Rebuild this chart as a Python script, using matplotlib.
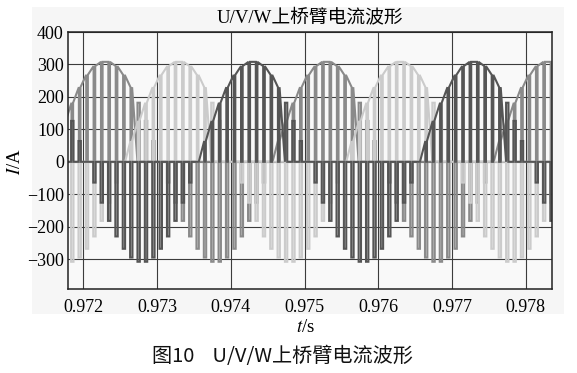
import numpy as np
import matplotlib
matplotlib.use('Agg')
import matplotlib.pyplot as plt
from matplotlib.patches import Rectangle

plt.rcParams['mathtext.fontset'] = 'stix'

# upper arm current of each phase at every switching instant, A (one value per 0.1 ms)
t_start = 0.97175
t_step = 0.0001

i_dark = [182, 126, 64, 0, -64, -126, -182, -230, -268, -295, -308, -308, -295, -268, -230,
          -182, -126, -64, 0, 64, 126, 182, 230, 268, 295, 308,
          308, 295, 268, 230, 182, 126, 64, 0, -64, -126, -182, -230, -268, -295, -308,
          -308, -295, -268, -230, -182, -126, -64, 0, 64, 126, 182, 230, 268, 295, 308,
          308, 295, 268, 230, 182, 126, 64, 0, -64, -126, -182]

i_mid = [126, 182, 230, 268, 295, 308,
         308, 295, 268, 230, 182, 126, 64, 0, -64, -126, -182, -230, -268, -295, -308,
         -308, -295, -268, -230, -182, -126, -64, 0, 64, 126, 182, 230, 268, 295, 308,
         308, 295, 268, 230, 182, 126, 64, 0, -64, -126, -182, -230, -268, -295, -308,
         -308, -295, -268, -230, -182, -126, -64, 0, 64, 126, 182, 230, 268, 295, 308,
         308]

i_light = [-308, -308, -295, -268, -230, -182, -126, -64, 0, 64, 126, 182, 230, 268, 295, 308,
           308, 295, 268, 230, 182, 126, 64, 0, -64, -126, -182, -230, -268, -295, -308,
           -308, -295, -268, -230, -182, -126, -64, 0, 64, 126, 182, 230, 268, 295, 308,
           308, 295, 268, 230, 182, 126, 64, 0, -64, -126, -182, -230, -268, -295, -308,
           -308, -295, -268, -230, -182, -126]

x_ticks = [0.972, 0.973, 0.974, 0.975, 0.976, 0.977, 0.978]
y_ticks = [-300, -200, -100, 0, 100, 200, 300, 400]

serif = ['Liberation Serif', 'Noto Sans CJK SC']


def pwm_trace(values, notch=0.22, pulse=0.32):
    # high duty (rising / near positive peak): conducts with a short notch to zero
    # low duty (falling tail and negative half): short pulse from zero
    ts, ys = [], []
    n = len(values)
    for k, v in enumerate(values):
        tc = t_start + k * t_step
        nxt = values[k + 1] if k + 1 < n else v - (values[k - 1] - v)
        if v > 0 and not (nxt < v and v <= 182):
            h = notch * t_step / 2
            ts += [tc - h, tc - h, tc + h, tc + h]
            ys += [v, 0, 0, v]
        else:
            h = pulse * t_step / 2
            ts += [tc - h, tc - h, tc + h, tc + h]
            ys += [0, v, v, 0]
    return np.array(ts), np.array(ys)


fig = plt.figure(figsize=(5.77, 3.73), dpi=100)
fig.patches.append(Rectangle((0.0555, 0.158), 0.922, 0.822, transform=fig.transFigure,
                             facecolor='#f6f6f6', edgecolor='none', zorder=-10))

ax = fig.add_axes([0.1179, 0.2252, 0.8388, 0.689])
ax.set_facecolor('#f9f9f9')

for vals, col in [(i_mid, '#8a8a8a'), (i_light, '#cbcbcb'), (i_dark, '#555555')]:
    tt, yy = pwm_trace(vals)
    ax.plot(tt, yy, color=col, lw=1.5, solid_joinstyle='miter')

ax.set_xlim(0.971792, 0.978357)
ax.set_ylim(-392, 400)
ax.set_xticks(x_ticks)
ax.set_xticklabels(['%.3f' % v for v in x_ticks])
ax.set_yticks(y_ticks)
ax.grid(True, color='#3c3c3c', lw=0.8)
ax.set_axisbelow(True)
ax.tick_params(length=0, pad=3)
ax.tick_params(axis='x', pad=7)
for lab in ax.get_xticklabels() + ax.get_yticklabels():
    lab.set_fontfamily(serif)
    lab.set_fontsize(13)
for sp in ax.spines.values():
    sp.set_linewidth(1.1)
    sp.set_color('#222222')

fig.text(0.537, 0.953, 'U/V/W上桥臂电流波形', ha='center', va='center',
         fontsize=13.5, family=serif)
fig.text(0.027, 0.567, '$I$/A', ha='center', va='center', rotation=90,
         fontsize=13.5, family=serif)
fig.text(0.529, 0.121, '$t$/s', ha='center', va='center',
         fontsize=13.5, family=serif)
fig.text(0.49, 0.043, '图10    U/V/W上桥臂电流波形', ha='center', va='center',
         fontsize=14.5, family=['Noto Sans CJK SC', 'DejaVu Sans'], color='#111111')

fig.savefig('out.png', dpi=100)
